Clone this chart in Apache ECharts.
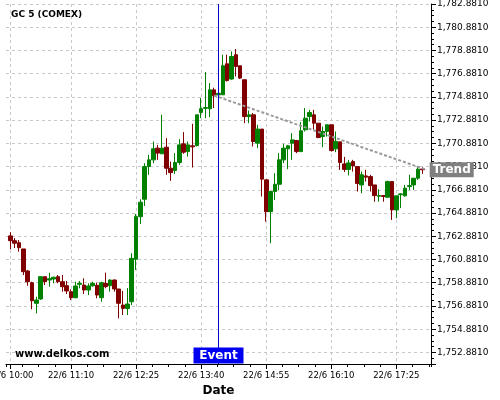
<!DOCTYPE html>
<html>
<head>
<meta charset="utf-8">
<script src="https://cdn.jsdelivr.net/npm/echarts@6/dist/echarts.min.js"></script>
<style>
html, body { margin: 0; padding: 0; background: #fff; }
#chart { width: 500px; height: 400px; }
</style>
</head>
<body>
<div id="chart"></div>
<script>
const FONT = 'DejaVu Sans';

// 5 minute slots, 22/6 09:55 .. 18:05 (first and last two slots stay empty)
const firstSlot = 9 * 60 + 55;
const slotCount = 99;
const tickLabels = ['22/6 10:00', '22/6 11:10', '22/6 12:25', '22/6 13:40', '22/6 14:55', '22/6 16:10', '22/6 17:25'];
const priceOffset = 0.881; // price labels sit on x.8810

// candles 10:00 .. 17:55
const opens = [
  1762.91, 1762.50, 1762.33, 1761.79, 1759.89, 1758.88, 1757.11, 1757.48, 1759.40, 1759.11,
  1759.20, 1759.40, 1758.97, 1758.62, 1758.11, 1757.59, 1758.74, 1758.68, 1758.25, 1758.62,
  1758.66, 1757.59, 1758.83, 1758.62, 1759.11, 1758.34, 1756.96, 1756.66, 1757.24, 1760.90,
  1764.57, 1766.07, 1768.88, 1769.46, 1770.47, 1769.98, 1770.55, 1768.74, 1768.54, 1769.23,
  1770.84, 1770.17, 1770.67, 1770.69, 1773.54, 1773.90, 1773.86, 1775.49, 1775.06, 1775.06,
  1777.73, 1776.42, 1778.51, 1777.56, 1776.36, 1773.19, 1773.34, 1770.90, 1772.11, 1767.74,
  1765.00, 1766.73, 1767.36, 1769.46, 1770.41, 1770.90, 1771.12, 1770.17, 1772.05, 1773.19,
  1773.34, 1772.62, 1771.47, 1771.90, 1772.48, 1770.41, 1771.01, 1769.11, 1768.64, 1769.31,
  1768.88, 1767.30, 1768.08, 1768.02, 1767.30, 1766.33, 1766.38, 1766.24, 1767.59, 1765.15,
  1766.46, 1766.36, 1767.16, 1767.30, 1767.88, 1768.67
];
const closes = [
  1762.50, 1762.28, 1761.90, 1759.83, 1758.97, 1757.33, 1757.39, 1759.40, 1758.97, 1759.23,
  1759.35, 1758.97, 1758.54, 1758.17, 1757.59, 1758.60, 1758.83, 1758.25, 1758.60, 1758.83,
  1757.82, 1758.88, 1758.54, 1759.11, 1758.34, 1757.11, 1756.67, 1757.05, 1760.98, 1764.57,
  1765.81, 1768.88, 1769.46, 1770.41, 1770.04, 1770.47, 1768.74, 1768.36, 1769.23, 1770.75,
  1770.12, 1770.75, 1770.58, 1773.34, 1773.86, 1773.96, 1775.49, 1774.98, 1775.19, 1777.56,
  1776.29, 1778.36, 1777.50, 1776.50, 1773.19, 1773.34, 1771.04, 1772.11, 1767.80, 1765.00,
  1766.73, 1767.36, 1769.46, 1770.47, 1770.67, 1771.18, 1770.17, 1771.96, 1773.05, 1773.54,
  1772.62, 1771.38, 1771.90, 1772.48, 1770.26, 1771.05, 1769.24, 1768.64, 1769.20, 1768.94,
  1767.43, 1768.17, 1767.97, 1767.24, 1766.38, 1766.38, 1766.31, 1767.59, 1765.15, 1766.36,
  1766.53, 1767.02, 1767.24, 1767.88, 1768.66, 1768.61
];
const highs = [
  1763.23, 1762.73, 1762.56, 1761.79, 1759.98, 1758.97, 1757.67, 1759.45, 1759.40, 1759.74,
  1759.40, 1759.55, 1759.55, 1759.03, 1758.31, 1758.97, 1759.03, 1759.26, 1758.83, 1758.97,
  1758.88, 1758.97, 1759.74, 1759.17, 1759.17, 1758.34, 1758.17, 1758.42, 1761.42, 1764.80,
  1766.07, 1769.17, 1769.89, 1771.04, 1770.75, 1773.34, 1771.33, 1769.31, 1770.04, 1771.24,
  1771.85, 1771.04, 1772.56, 1773.34, 1774.78, 1777.02, 1776.07, 1775.67, 1775.32, 1778.51,
  1778.51, 1778.80, 1779.00, 1777.56, 1776.36, 1773.71, 1773.49, 1772.48, 1772.11, 1767.74,
  1766.73, 1768.31, 1770.04, 1770.84, 1770.75, 1771.76, 1771.18, 1772.71, 1773.92, 1773.77,
  1773.77, 1772.62, 1772.33, 1772.48, 1772.48, 1771.90, 1771.01, 1769.72, 1769.46, 1769.46,
  1768.88, 1768.45, 1768.60, 1768.17, 1767.30, 1766.93, 1766.44, 1767.67, 1767.59, 1766.36,
  1766.59, 1767.30, 1768.17, 1767.91, 1768.88, 1768.83
];
const lows = [
  1761.76, 1761.87, 1761.55, 1759.54, 1758.62, 1756.59, 1756.24, 1757.40, 1758.68, 1758.54,
  1758.83, 1758.83, 1758.11, 1757.91, 1757.39, 1757.54, 1758.40, 1757.91, 1757.82, 1758.54,
  1757.54, 1757.24, 1758.40, 1758.11, 1758.11, 1755.81, 1756.10, 1756.10, 1756.96, 1759.98,
  1763.94, 1765.49, 1768.17, 1769.17, 1769.46, 1769.98, 1768.17, 1767.65, 1768.25, 1769.03,
  1769.98, 1769.74, 1768.80, 1770.61, 1773.05, 1773.05, 1773.14, 1773.92, 1774.98, 1775.06,
  1776.21, 1776.36, 1776.64, 1776.42, 1772.62, 1772.62, 1770.61, 1770.47, 1766.30, 1764.14,
  1762.28, 1766.01, 1766.87, 1769.17, 1768.66, 1769.46, 1770.04, 1770.17, 1771.90, 1772.76,
  1772.05, 1771.33, 1770.55, 1771.47, 1770.17, 1770.12, 1768.60, 1768.42, 1768.12, 1768.45,
  1766.73, 1766.59, 1767.59, 1766.73, 1765.86, 1765.86, 1765.86, 1766.24, 1764.29, 1764.43,
  1765.30, 1766.30, 1766.87, 1766.87, 1767.74, 1768.25
];

// trend line and event marker
const trendTimes = ['22/6 13:55', '22/6 18:00'];
const trendValues = [1775.0, 1768.6];
const eventTime = '22/6 14:00';
const eventLabelLevel = 1752.62;

const categories = [];
for (let i = 0; i < slotCount; i++) {
  const m = firstSlot + i * 5;
  categories.push('22/6 ' + String(Math.floor(m / 60)).padStart(2, '0') + ':' + String(m % 60).padStart(2, '0'));
}

const candles = categories.map(function (c, i) {
  const k = i - 1;
  if (k < 0 || k >= opens.length) return '-';
  return [opens[k], closes[k], lows[k], highs[k]];
});

function fmtPrice(v) {
  return v.toLocaleString('en-US', { minimumFractionDigits: 4, maximumFractionDigits: 4 });
}

const isTick = function (idx, val) { return tickLabels.indexOf(val) >= 0; };

const myChart = echarts.init(document.getElementById('chart'), null, { renderer: 'canvas' });

const option = {
  animation: false,
  backgroundColor: '#fff',
  textStyle: { fontFamily: FONT },
  title: [
    {
      text: 'GC 5 (COMEX)', left: 11, top: 10, padding: 0,
      textStyle: { fontFamily: FONT, fontSize: 9, fontWeight: 'bold', color: '#000' }
    },
    {
      text: 'www.delkos.com', left: 15, top: 349, padding: 0,
      textStyle: { fontFamily: FONT, fontSize: 10, fontWeight: 'bold', color: '#000' }
    }
  ],
  grid: { left: 6, top: 4, width: 425, height: 360, containLabel: false, outerBoundsMode: 'none' },
  xAxis: [
    {
      type: 'category',
      data: categories,
      boundaryGap: false,
      name: 'Date',
      nameLocation: 'middle',
      nameGap: 19,
      nameTextStyle: { fontFamily: FONT, fontSize: 12, fontWeight: 'bold', color: '#000' },
      axisLine: { onZero: false, lineStyle: { color: '#000', width: 1 } },
      axisTick: { interval: isTick, length: 5, lineStyle: { color: '#000' } },
      axisLabel: { interval: isTick, margin: 7, fontSize: 8.5, color: '#000', fontFamily: FONT },
      splitLine: { show: true, interval: isTick, lineStyle: { color: '#c8c8c8', type: [3, 3] } }
    },
    {
      // only carries the small quarter ticks along the time axis
      type: 'value',
      position: 'bottom',
      min: 0,
      max: 490,
      interval: 18.75,
      axisLine: { show: false, onZero: false },
      axisLabel: { show: false },
      splitLine: { show: false },
      axisTick: { show: true, length: 3, lineStyle: { color: '#000' } }
    }
  ],
  yAxis: [
    {
      // label axis: u = -(price - 0.881)
      type: 'value',
      position: 'right',
      inverse: true,
      min: -1782,
      max: -1751,
      interval: 2,
      axisLine: { show: true, onZero: false, lineStyle: { color: '#000', width: 1 } },
      axisTick: { show: true, length: 5, lineStyle: { color: '#000' } },
      minorTick: { show: true, splitNumber: 4, length: 3, lineStyle: { color: '#000' } },
      axisLabel: {
        margin: 6, fontSize: 9, color: '#000', fontFamily: FONT,
        formatter: function (u) {
          const r = Math.round(u);
          if (Math.abs(u - r) > 1e-6 || r % 2 !== 0) return '';
          return fmtPrice(-r + priceOffset);
        }
      },
      splitLine: { show: true, lineStyle: { color: '#c8c8c8', type: [3, 3] } }
    },
    {
      type: 'value',
      show: false,
      position: 'right',
      axisLine: { onZero: false },
      min: 1751 + priceOffset,
      max: 1782 + priceOffset
    }
  ],
  series: [
    {
      type: 'candlestick',
      xAxisIndex: 0,
      yAxisIndex: 1,
      data: candles,
      barWidth: '95%',
      itemStyle: {
        color: '#008000',
        color0: '#800000',
        borderColor: '#008000',
        borderColor0: '#800000',
        borderWidth: 1
      },
      markLine: {
        silent: true,
        symbol: ['none', 'none'],
        label: { show: false },
        lineStyle: { color: '#0000c8', width: 1, type: 'solid' },
        data: [{ xAxis: eventTime }]
      },
      markPoint: {
        silent: true,
        symbol: 'rect',
        symbolSize: [50, 16],
        itemStyle: { color: '#0000f0' },
        label: {
          show: true, position: 'inside', formatter: 'Event',
          color: '#fff', fontFamily: FONT, fontSize: 12, fontWeight: 'bold'
        },
        data: [{ coord: [eventTime, eventLabelLevel] }]
      }
    },
    {
      type: 'line',
      xAxisIndex: 0,
      yAxisIndex: 1,
      data: trendTimes.map(function (t, i) { return [t, trendValues[i]]; }),
      showSymbol: false,
      symbol: 'none',
      lineStyle: { color: '#9a9a9a', width: 2, type: [3, 2] },
      endLabel: {
        show: true,
        formatter: 'Trend',
        distance: 3,
        color: '#fff',
        fontFamily: FONT,
        fontSize: 12,
        fontWeight: 'bold',
        backgroundColor: '#808080',
        padding: [2, 3, 1, 3]
      },
      z: 3
    }
  ]
};

myChart.setOption(option);
</script>
</body>
</html>
